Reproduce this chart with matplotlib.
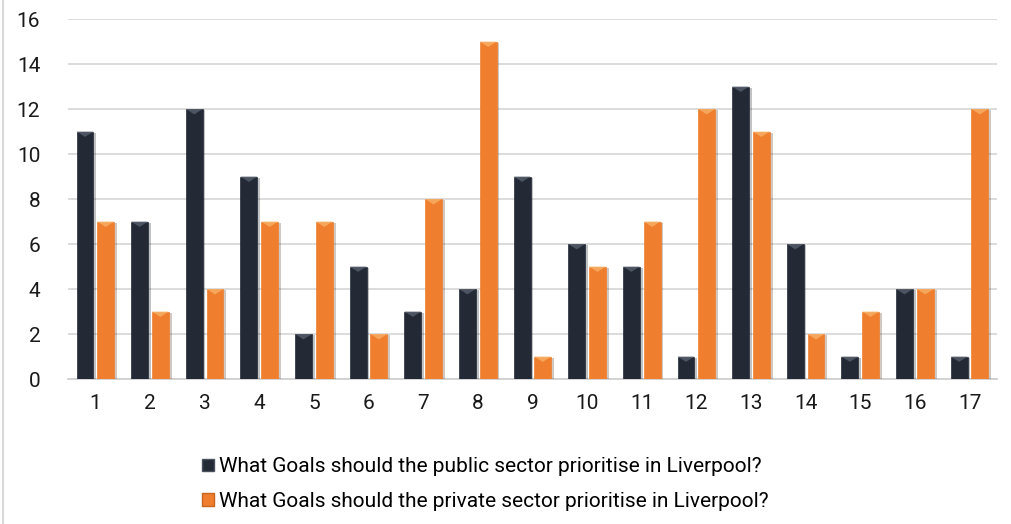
import matplotlib
matplotlib.use('Agg')
import matplotlib.pyplot as plt
import matplotlib.patheffects as pe
from matplotlib.patches import Polygon, Patch
from matplotlib.lines import Line2D
import numpy as np

plt.rcParams['font.family'] = ['Roboto', 'DejaVu Sans']

goals = [str(i) for i in range(1, 18)]
public_votes = [11, 7, 12, 9, 2, 5, 3, 4, 9, 6, 5, 1, 13, 6, 1, 4, 1]
private_votes = [7, 3, 4, 7, 7, 2, 8, 15, 1, 5, 7, 12, 11, 2, 3, 4, 12]
series_names = [
    "What Goals should the public sector prioritise in Liverpool?",
    "What Goals should the private sector prioritise in Liverpool?",
]

DARK = '#232a36'
DARK_TIP = '#5a6270'
ORANGE = '#ef7f2e'
ORANGE_TIP = '#f9b46a'

fig = plt.figure(figsize=(10.11, 5.24), dpi=100)
ax = fig.add_axes([0.0673, 0.2767, 0.9187, 0.687])

x = np.arange(len(goals))
width = 0.31
offset = 0.19
shadow = [pe.SimplePatchShadow(offset=(2, -1), alpha=0.25), pe.Normal()]


def draw_series(xs, values, color, tip_color):
    bars = ax.bar(xs, values, width, color=color, zorder=3,
                  edgecolor=color, linewidth=0.5)
    for b in bars:
        b.set_path_effects(shadow)
    # bevel highlight at the top of each bar
    tip_h = 0.24
    for xc, v in zip(xs, values):
        left, right = xc - width / 2, xc + width / 2
        tri = Polygon([(left, v), (right, v), (xc, v - tip_h)],
                      closed=True, facecolor=tip_color, edgecolor='none',
                      alpha=0.75, zorder=4)
        ax.add_patch(tri)


draw_series(x - offset, public_votes, DARK, DARK_TIP)
draw_series(x + offset, private_votes, ORANGE, ORANGE_TIP)

ax.set_xlim(-0.5, len(goals) - 0.5)
ax.set_ylim(0, 16)
ax.set_yticks(range(0, 17, 2))
ax.set_xticks(x)
ax.set_xticklabels(goals)
ax.tick_params(axis='both', length=0, labelsize=15, colors='#1a1a1a')
ax.tick_params(axis='x', pad=11)
ax.tick_params(axis='y', pad=20)
ax.grid(axis='y', color='#d9d9d9', linewidth=1.3, zorder=0)
ax.set_axisbelow(True)
for side in ['top', 'right', 'left']:
    ax.spines[side].set_visible(False)
ax.spines['bottom'].set_color('#d0d0d0')
ax.spines['bottom'].set_linewidth(1.3)

handles = [Patch(facecolor=DARK, edgecolor='#4a5260'),
           Patch(facecolor=ORANGE, edgecolor='#c8641c')]
fig.legend(handles, series_names, loc='upper center',
           bbox_to_anchor=(0.48, 0.163), frameon=False, ncol=1,
           fontsize=15, handlelength=0.55, handleheight=0.55,
           handletextpad=0.25, labelspacing=0.75)

# thin frame line down the left edge
fig.add_artist(Line2D([0.0025, 0.0025], [0, 1], transform=fig.transFigure,
                      color='#d9d9d9', linewidth=1.5))

fig.savefig('out.png', dpi=100, facecolor='white')
